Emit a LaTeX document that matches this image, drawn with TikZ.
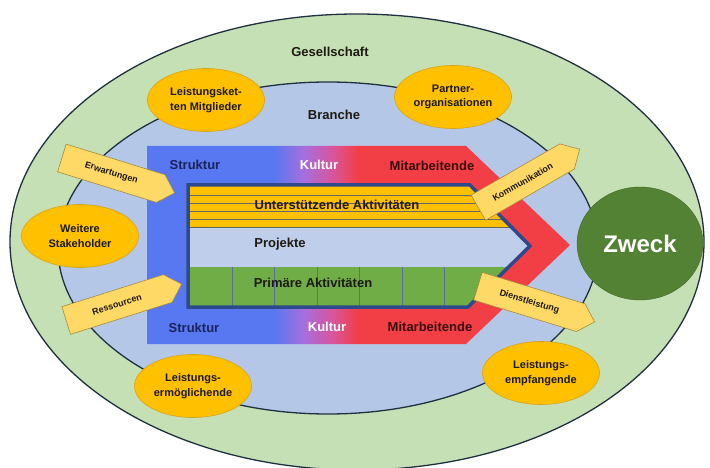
\documentclass[tikz,border=0pt]{standalone}
\usepackage{fontspec}
\setmainfont{Liberation Sans}
\usetikzlibrary{shapes.geometric,shapes.arrows}

\definecolor{gesgreen}{HTML}{C5E0B4}
\definecolor{brablue}{HTML}{B4C7E7}
\definecolor{kblue}{HTML}{5878F2}
\definecolor{kpurple}{HTML}{A66EDC}
\definecolor{kpink}{HTML}{D8559A}
\definecolor{kred}{HTML}{F23F45}
\definecolor{frameblue}{HTML}{2E4A8C}
\definecolor{stripeyellow}{HTML}{FFC000}
\definecolor{primgreen}{HTML}{70AD47}
\definecolor{zweckgreen}{HTML}{548235}
\definecolor{ovalline}{HTML}{D9A21B}
\definecolor{arrowfill}{HTML}{FFD966}
\definecolor{arrowline}{HTML}{A68A3C}
\definecolor{rimline}{HTML}{1F3041}
\definecolor{navytext}{HTML}{1B2358}
\definecolor{maroontext}{HTML}{3A0E10}
\definecolor{darktext}{HTML}{1E1A12}

\pgfdeclarehorizontalshading{kulturshade}{100bp}{color(0bp)=(kblue); color(40bp)=(kblue); color(43.5bp)=(kpurple); color(47bp)=(kpink); color(50bp)=(kred); color(100bp)=(kred)}

\tikzstyle{headline}=[font=\bfseries\fontsize{13}{15}\selectfont, text=darktext, inner sep=1pt]
\tikzstyle{oval}=[ellipse, draw=ovalline, fill=stripeyellow, line width=0.6pt, minimum width=117, minimum height=63, inner sep=0pt, align=center, font=\bfseries\fontsize{11}{14.5}\selectfont, text=darktext]
\tikzstyle{sidearrow}=[single arrow, single arrow head extend=0pt, single arrow tip angle=90, draw=arrowline, fill=arrowfill, line width=0.6pt, inner sep=1pt, minimum width=29, anchor=tip, font=\bfseries\fontsize{9}{10}\selectfont, text=darktext]
\tikzstyle{stripeline}=[gray!80!black, line width=0.6pt]
\tikzstyle{divline}=[frameblue!80, line width=0.6pt]

\begin{document}
\begin{tikzpicture}[x=1pt, y=-1pt, line join=miter]
    \useasboundingbox (0,0) rectangle (710,468);
    \fill[white] (0,0) rectangle (710,468);
% Rings
    \draw[rimline, line width=1.3pt, fill=gesgreen] (357,242) ellipse [x radius=347, y radius=228];
    \draw[rimline, line width=1.3pt, fill=brablue] (328,248) ellipse [x radius=270, y radius=166];
    \node[headline] (gesellschaft) at (330,52) {Gesellschaft};
    \node[headline] (branche) at (334,115) {Branche};
% Organisation chevron
    \shade[shading=kulturshade] (147,146) -- (466,146) -- (570,245) -- (466,344) -- (147,344) -- cycle;
    \node[headline, text=navytext] (strukturtop) at (195,165) {Struktur};
    \node[headline, text=white] (kulturtop) at (319,165) {Kultur};
    \node[headline, text=maroontext] (mitarbtop) at (432,166) {Mitarbeitende};
    \node[headline, text=navytext] (strukturbot) at (194,328) {Struktur};
    \node[headline, text=white] (kulturbot) at (327,327) {Kultur};
    \node[headline, text=maroontext] (mitarbbot) at (430,327) {Mitarbeitende};
% Activities frame
    \fill[brablue!85!white] (188,185) -- (470,185) -- (530,246) -- (468,307) -- (188,307) -- cycle;
    \begin{scope}
    \clip (188,185) -- (470,185) -- (530,246) -- (468,307) -- (188,307) -- cycle;
    \fill[stripeyellow] (188,185) rectangle (530,227);
    \foreach \y in {195,203,211,219,227}
        \draw[stripeline] (188,\y) -- (530,\y);
    \fill[primgreen] (188,267) rectangle (530,307);
    \foreach \x in {232,274,317,359,402,444}
        \draw[divline] (\x,267) -- (\x,307);
    \end{scope}
    \draw[frameblue, line width=3.5pt] (188,185) -- (470,185) -- (530,246) -- (468,307) -- (188,307) -- cycle;
    \node[headline] (unterst) at (337,205) {Unterstützende Aktivitäten};
    \node[headline] (projekte) at (280,244) {Projekte};
    \node[headline] (primaer) at (313,283) {Primäre Aktivitäten};
% Exchange arrows
    \node[sidearrow, minimum height=118, rotate=-17.2] (erwartung) at (175,193) {Erwartungen};
    \node[sidearrow, minimum height=121, rotate=17.5] (ressourcen) at (182,284) {Ressourcen};
    \node[sidearrow, minimum height=117, rotate=30] (kommunikation) at (580,149) {Kommunikation};
    \node[sidearrow, minimum height=122, rotate=-17] (dienstleistung) at (595,322) {Dienstleistung};
% Stakeholders
    \node[oval] (leistungsketten) at (206,100) {Leistungsket-\\ten Mitglieder};
    \node[oval] (partner) at (453,97) {Partner-\\organisationen};
    \node[oval] (weitere) at (80,236) {Weitere\\Stakeholder};
    \node[oval] (ermoeglichende) at (193,386) {Leistungs-\\ermöglichende};
    \node[oval] (empfangende) at (541,373) {Leistungs-\\empfangende};
% Purpose
    \node[ellipse, draw=zweckgreen!80!black, fill=zweckgreen, minimum width=126, minimum height=113, inner sep=0pt, text=white, font=\bfseries\fontsize{24}{28}\selectfont] (zweck) at (640,243.5) {Zweck};
\end{tikzpicture}
\end{document}
